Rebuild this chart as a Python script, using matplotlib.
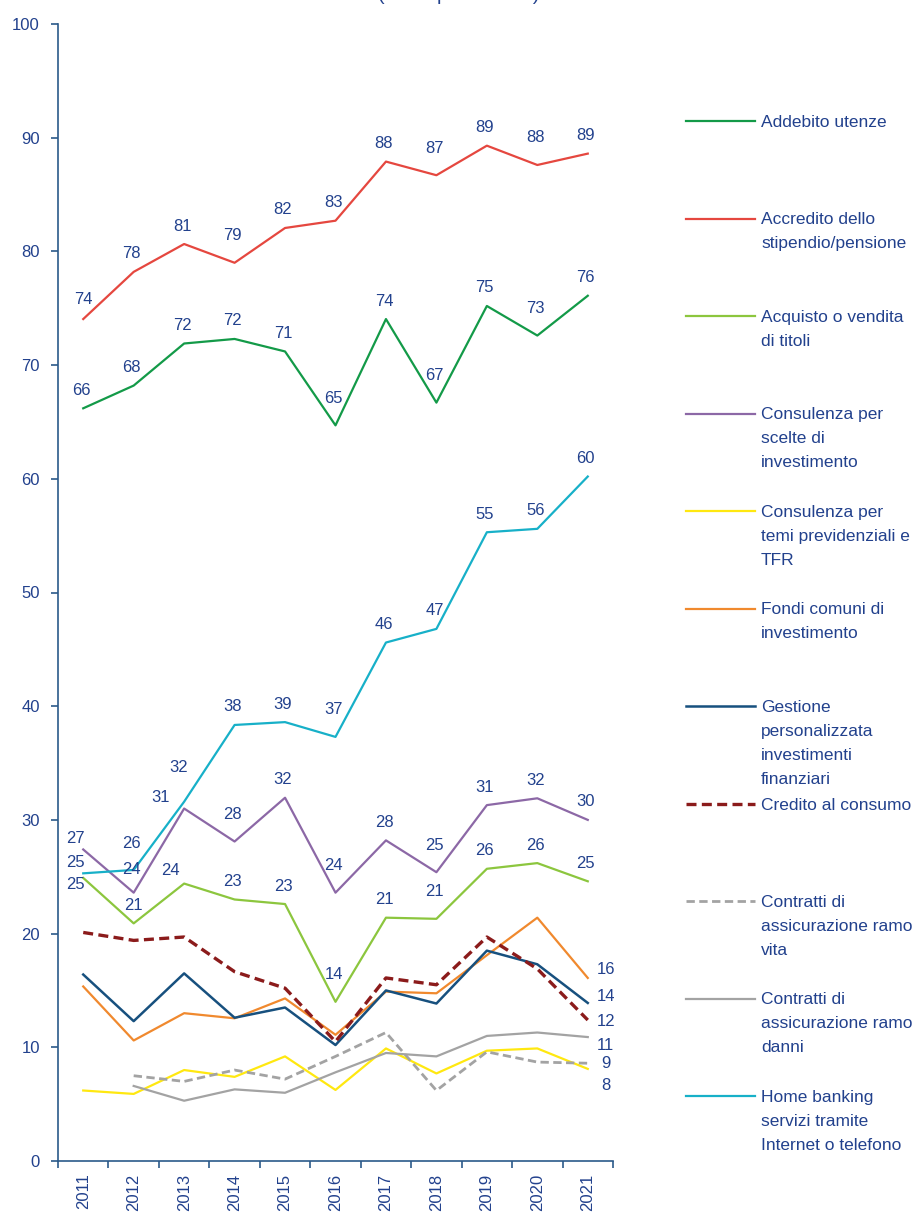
import numpy as np
import matplotlib
matplotlib.use("Agg")
import matplotlib.pyplot as plt
from matplotlib.lines import Line2D

FAM = ['Liberation Sans', 'DejaVu Sans']
plt.rcParams['font.family'] = FAM

years = ['2011', '2012', '2013', '2014', '2015', '2016', '2017', '2018', '2019', '2020', '2021']

addebito_utenze = [66.2, 68.2, 71.9, 72.3, 71.2, 64.7, 74.05, 66.7, 75.2, 72.6, 76.1]
accredito_stipendio = [74.05, 78.2, 80.65, 79.0, 82.06, 82.7, 87.9, 86.7, 89.3, 87.6, 88.6]
acquisto_titoli = [24.9, 20.9, 24.4, 23.0, 22.6, 14.0, 21.4, 21.3, 25.7, 26.2, 24.6]
consulenza_investimento = [27.4, 23.6, 31.0, 28.1, 31.95, 23.6, 28.2, 25.4, 31.3, 31.9, 30.0]
consulenza_previdenza = [6.2, 5.9, 8.0, 7.4, 9.2, 6.25, 9.9, 7.7, 9.7, 9.9, 8.1]
fondi_comuni = [15.35, 10.6, 13.0, 12.55, 14.3, 11.1, 14.9, 14.75, 18.1, 21.4, 16.1]
gestione_personalizzata = [16.4, 12.3, 16.5, 12.6, 13.5, 10.2, 15.0, 13.85, 18.5, 17.3, 13.9]
credito_consumo = [20.1, 19.4, 19.7, 16.65, 15.2, 10.5, 16.1, 15.5, 19.7, 16.9, 12.4]
ramo_vita = [np.nan, 7.5, 7.0, 8.0, 7.2, 9.2, 11.3, 6.2, 9.6, 8.7, 8.6]
ramo_danni = [np.nan, 6.6, 5.3, 6.3, 6.0, 7.8, 9.5, 9.2, 11.0, 11.3, 10.9]
home_banking = [25.3, 25.6, 31.6, 38.35, 38.6, 37.3, 45.6, 46.8, 55.3, 55.6, 60.2]

legend_labels = [
    'Addebito utenze',
    'Accredito dello\nstipendio/pensione',
    'Acquisto o vendita\ndi titoli',
    'Consulenza per\nscelte di\ninvestimento',
    'Consulenza per\ntemi previdenziali e\nTFR',
    'Fondi comuni di\ninvestimento',
    'Gestione\npersonalizzata\ninvestimenti\nfinanziari',
    'Credito al consumo',
    'Contratti di\nassicurazione ramo\nvita',
    'Contratti di\nassicurazione ramo\ndanni',
    'Home banking\nservizi tramite\nInternet o telefono',
]
series = [addebito_utenze, accredito_stipendio, acquisto_titoli, consulenza_investimento,
          consulenza_previdenza, fondi_comuni, gestione_personalizzata, credito_consumo,
          ramo_vita, ramo_danni, home_banking]
colors = ['#139A48', '#E5473F', '#8CC63E', '#8C68A6', '#FFE810', '#F0892E',
          '#17507E', '#8B1B1B', '#A3A3A3', '#A3A3A3', '#17B0C8']
styles = ['-', '-', '-', '-', '-', '-', '-', (0, (3, 1.6)), (0, (3, 1.6)), '-', '-']
widths = [1.6, 1.6, 1.6, 1.6, 1.6, 1.6, 1.8, 2.4, 2.0, 1.6, 1.6]
full_labels = {0, 1, 2, 3, 10}
end_labels = {5: -8, 6: -6, 7: 1, 9: 8, 8: 0, 4: 17}  # dy pixels (down positive)

TXT = '#22418D'
AX = '#2B5A8A'
FS = 12

W, H = 914, 1213
fig = plt.figure(figsize=(W / 100, H / 100), dpi=100)
ax = fig.add_axes([58 / W, 52 / H, (613 - 58) / W, (1161 - 24) / H])

x = np.arange(len(years))
zorders = [3, 3, 3, 3, 2, 2, 3, 4, 2, 2, 3]
for s, c, ls, lw, z in zip(series, colors, styles, widths, zorders):
    ax.plot(x, s, color=c, linestyle=ls, linewidth=lw, zorder=z)

overrides = {
    (3, 0): (-8, -11), (10, 0): (-8, -11), (2, 0): (-8, 7),
    (10, 1): (-2, -26), (3, 1): (-2, -23), (2, 1): (0, -18),
    (10, 2): (-6, -34), (3, 2): (-24, -11), (2, 2): (-14, -13),
    (1, 0): (0, -20),
}

def default_offset(vals, i):
    v = vals[i]
    prev = vals[i - 1] if i > 0 else np.nan
    nxt = vals[i + 1] if i < len(vals) - 1 else np.nan
    is_min = (np.isnan(prev) or v < prev) and (np.isnan(nxt) or v < nxt) and 0 < i < len(vals) - 1
    return (-2, -27 if is_min else -18)

for k in full_labels:
    vals = series[k]
    for i, v in enumerate(vals):
        dx, dy = overrides.get((k, i), default_offset(vals, i))
        ax.annotate(f'{int(round(v))}', (x[i], v), xytext=(dx, -dy), textcoords='offset pixels',
                    ha='center', va='center', color=TXT, fontsize=FS, family=FAM, zorder=6)

for k, dy in end_labels.items():
    v = series[k][-1]
    ax.annotate(f'{int(round(v))}', (x[-1], v), xytext=(18, -dy), textcoords='offset pixels',
                ha='center', va='center', color=TXT, fontsize=FS, family=FAM, zorder=6,
                annotation_clip=False)

ax.set_ylim(0, 100)
ax.set_xlim(-0.5, len(years) - 0.5)
ax.set_yticks(np.arange(0, 101, 10))
ax.set_xticks(np.arange(-0.5, len(years), 1.0))
ax.set_xticklabels([])
ax.set_xticks(x, minor=True)
ax.set_xticklabels(years, minor=True, rotation=90, color=TXT, fontsize=FS)
ax.tick_params(axis='x', which='minor', length=0, pad=9)
ax.tick_params(axis='x', which='major', length=5, color=AX, width=1.2, direction='out')
ax.tick_params(axis='y', length=5, color=AX, width=1.2, labelcolor=TXT, labelsize=FS, pad=8)
for sp in ['top', 'right']:
    ax.spines[sp].set_visible(False)
for sp in ['left', 'bottom']:
    ax.spines[sp].set_color(AX)
    ax.spines[sp].set_linewidth(1.2)

# legend drawn manually with uniform spacing
y0 = 121
step = 97.5
for i, (lab, c, ls, lw) in enumerate(zip(legend_labels, colors, styles, widths)):
    yh = y0 + i * step
    fy = 1 - yh / H
    fig.add_artist(Line2D([686 / W, 755 / W], [fy, fy], color=c, linestyle=ls, linewidth=lw))
    fig.text(761 / W, 1 - (yh - 6) / H, lab, ha='left', va='top', color=TXT,
             fontsize=12.5, linespacing=1.74, family=FAM)

fig.text(459 / W, 1.0, '(valori percentuali)', ha='center', va='baseline', color=TXT,
         fontsize=14, family=FAM)

fig.savefig('out.png', dpi=100)
